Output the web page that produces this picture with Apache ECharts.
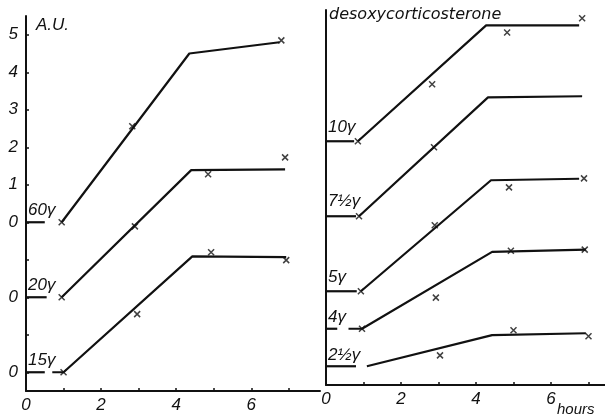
<!DOCTYPE html>
<html><head><meta charset="utf-8">
<script src="https://cdn.jsdelivr.net/npm/echarts@6/dist/echarts.min.js"></script>
<style>html,body{margin:0;padding:0;background:#fff}#c{width:605px;height:418px}</style>
</head><body><div id="c"></div>
<script>
// ---- tick labels ----
const hourLabels = [0, 2, 4, 6];
const hourTicks = [0, 1, 2, 3, 4, 5, 6, 7];
const leftYLabelValues = [-4, -2, 0, 1, 2, 3, 4, 5];
const leftYLabelTexts  = ['0', '0', '0', '1', '2', '3', '4', '5'];
const leftYTickValues  = [-4, -3, -2, -1, 0, 1, 2, 3, 4, 5];

// ---- left panel (A.U.) ----
const leftNames   = ['60γ', '20γ', '15γ'];
const leftBase    = [0, -2, -4];
const leftStubs   = [
  [[0, 0], [0.5, 0]],
  [[0, 0], [0.55, 0]],
  [[0, 0], [0.5, 0]]
];
const leftCurves  = [
  [[0.95, 0], [4.35, 4.5], [6.75, 4.8]],
  [[0.95, 0], [4.4, 3.39], [6.9, 3.41]],
  [[0.7, 0], [1.0, 0], [4.43, 3.09], [6.93, 3.07]]
];
const leftPoints  = [
  [[0.95, 0], [2.83, 2.56], [6.8, 4.85]],
  [[0.95, 0], [2.9, 1.89], [4.85, 3.28], [6.9, 3.73]],
  [[1.0, 0], [2.96, 1.55], [4.93, 3.2], [6.93, 2.99]]
];

// ---- right panel (desoxycorticosterone) ----
const rightNames  = ['10γ', '7½γ', '5γ', '4γ', '2½γ'];
const rightBase   = [6.5, 4.5, 2.5, 1.5, 0.5];
const rightStubs  = [
  [[0, 0], [0.75, 0]],
  [[0, 0], [0.8, 0]],
  [[0, 0], [0.82, 0]],
  [[0, 0], [0.3, 0]],
  [[0, 0], [0.8, 0]]
];
const rightCurves = [
  [[0.85, 0], [4.27, 3.09], [6.75, 3.09]],
  [[0.88, 0], [4.32, 3.17], [6.83, 3.2]],
  [[0.93, 0], [4.4, 2.96], [6.75, 3.0]],
  [[0.6, 0], [0.96, 0], [4.43, 2.05], [6.93, 2.11]],
  [[1.09, 0], [4.43, 0.83], [6.93, 0.88]]
];
const rightPoints = [
  [[0.85, 0], [2.83, 1.52], [4.83, 2.9], [6.83, 3.28]],
  [[0.88, 0], [2.88, 1.84]],
  [[0.93, 0], [2.9, 1.76], [4.88, 2.77], [6.88, 3.01]],
  [[0.96, 0], [2.93, 0.83], [4.93, 2.08], [6.9, 2.11]],
  [[3.04, 0.29], [5.0, 0.96], [7.0, 0.8]]
];

const INK = '#111';
const FONT = 'Liberation Sans';
const X_SYMBOL = 'path://M0,0L10,10M10,0L0,10';

function shift(arr, off) { return arr.map(p => [p[0], p[1] + off]); }

const series = [];
function addPanel(idx, stubs, curves, points, base) {
  for (let i = 0; i < curves.length; i++) {
    const common = { type: 'line', xAxisIndex: idx, yAxisIndex: idx, showSymbol: false, silent: true,
      lineStyle: { color: INK, width: 2.2 }, animation: false };
    series.push(Object.assign({}, common, { data: shift(stubs[i], base[i]) }));
    series.push(Object.assign({}, common, { data: shift(curves[i], base[i]) }));
    series.push({ type: 'scatter', xAxisIndex: idx, yAxisIndex: idx, symbol: X_SYMBOL, symbolSize: 6,
      itemStyle: { color: 'none', borderColor: INK, borderWidth: 1.5 }, silent: true, animation: false,
      data: shift(points[i], base[i]) });
  }
}
addPanel(0, leftStubs, leftCurves, leftPoints, leftBase);
addPanel(1, rightStubs, rightCurves, rightPoints, rightBase);

const axisLabelStyle = { color: INK, fontFamily: FONT, fontStyle: 'italic', fontSize: 17 };
const xAxisCommon = {
  type: 'value', min: 0, interval: 1,
  axisLine: { onZero: false, lineStyle: { color: INK, width: 2 } },
  axisTick: { inside: true, length: 3, lineStyle: { color: INK, width: 1.5 }, customValues: hourTicks },
  axisLabel: Object.assign({ margin: 6, customValues: hourLabels }, axisLabelStyle),
  splitLine: { show: false }
};

const option = {
  backgroundColor: '#fff',
  animation: false,
  grid: [
    { left: 26, top: 16, width: 294, height: 375 },
    { left: 326, top: 10, width: 279, height: 375 }
  ],
  xAxis: [
    Object.assign({}, xAxisCommon, { gridIndex: 0, max: 7.83 }),
    Object.assign({}, xAxisCommon, { gridIndex: 1, max: 7.44 })
  ],
  yAxis: [
    { type: 'value', gridIndex: 0, min: -4.5, max: 5.5,
      axisLine: { show: true, onZero: false, lineStyle: { color: INK, width: 2 } },
      axisTick: { show: true, inside: true, length: 3, lineStyle: { color: INK, width: 1.5 }, customValues: leftYTickValues },
      axisLabel: Object.assign({ margin: 8, customValues: leftYLabelValues,
        formatter: v => leftYLabelTexts[leftYLabelValues.indexOf(Math.round(v))] }, axisLabelStyle),
      splitLine: { show: false } },
    { type: 'value', gridIndex: 1, min: 0, max: 10,
      axisLine: { show: true, onZero: false, lineStyle: { color: INK, width: 2 } },
      axisTick: { show: false }, axisLabel: { show: false }, splitLine: { show: false } }
  ],
  series: series
};

const chart = echarts.init(document.getElementById('c'), null, { renderer: 'canvas' });
chart.setOption(option);

// text annotations placed from data coordinates
const labelFont = 'italic 17px "' + FONT + '"';
const graphics = [];
function addNameLabels(idx, names, base, lift) {
  names.forEach((n, i) => {
    const p = chart.convertToPixel({ xAxisIndex: idx, yAxisIndex: idx }, [0, base[i]]);
    graphics.push({ type: 'text', x: p[0] + 2, y: p[1] - lift[i],
      style: { text: n, font: labelFont, fill: INK, textVerticalAlign: 'bottom' } });
  });
}
addNameLabels(0, leftNames, leftBase, [3, 3, 3]);
addNameLabels(1, rightNames, rightBase, [5, 6, 5, 3, 2]);
graphics.push({ type: 'text', x: 36, y: 17,
  style: { text: 'A.U.', font: 'italic 17px "' + FONT + '"', fill: INK } });
graphics.push({ type: 'text', x: 329, y: 7,
  style: { text: 'desoxycorticosterone', font: 'italic 16px "DejaVu Sans"', fill: INK } });
graphics.push({ type: 'text', x: 557, y: 402,
  style: { text: 'hours', font: 'italic 15px "' + FONT + '"', fill: INK } });
chart.setOption({ graphic: graphics });
</script>
</body></html>
